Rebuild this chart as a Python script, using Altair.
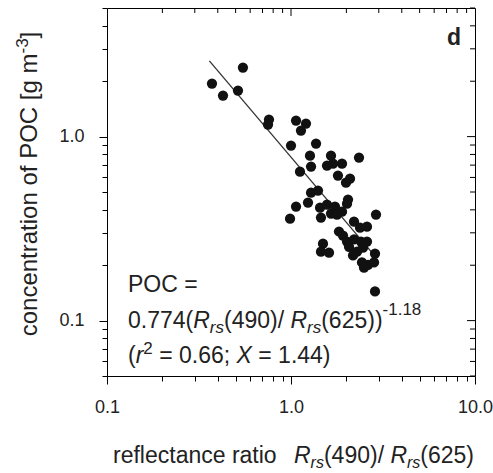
import altair as alt
import pandas as pd

# ---------------- data ----------------
ratio = [0.548, 0.372, 0.427, 0.515, 0.759, 0.750, 1.065, 1.206, 1.133, 1.000,
         1.368, 1.268, 1.650, 2.342, 1.285, 1.569, 1.692, 1.893, 1.119, 1.800,
         1.990, 2.093, 1.285, 1.402, 2.041, 1.237, 1.065, 0.988, 1.438, 1.569,
         1.734, 2.016, 1.893, 1.455, 1.650, 1.778, 2.200, 2.897, 2.371, 2.588,
         1.823, 1.917, 2.016, 2.200, 2.401, 2.588, 1.492, 1.455, 1.609, 2.067,
         2.284, 2.462, 2.173, 2.861, 2.431, 2.621, 2.826, 2.493, 2.861]
poc = [2.371, 1.941, 1.671, 1.778, 1.237, 1.162, 1.222, 1.177, 1.078, 0.894,
       0.916, 0.788, 0.788, 0.769, 0.687, 0.696, 0.713, 0.713, 0.645, 0.614,
       0.562, 0.591, 0.496, 0.509, 0.455, 0.438, 0.417, 0.358, 0.411, 0.427,
       0.417, 0.432, 0.391, 0.363, 0.382, 0.377, 0.345, 0.377, 0.320, 0.324,
       0.305, 0.290, 0.269, 0.276, 0.269, 0.269, 0.262, 0.237, 0.234, 0.252,
       0.237, 0.249, 0.226, 0.231, 0.207, 0.201, 0.207, 0.194, 0.144]

fit_x = [0.36, 2.8]
fit_y = [2.58, 0.23]

x_major = [0.1, 1, 10]
x_minor = [0.2, 0.3, 0.4, 0.5, 0.6, 0.7, 0.8, 0.9, 2, 3, 4, 5, 6, 7, 8, 9]
y_major = [0.1, 1]
y_minor = [0.05, 0.06, 0.07, 0.08, 0.09, 0.2, 0.3, 0.4, 0.5, 0.6, 0.7, 0.8, 0.9, 2, 3, 4, 5]

x_domain = [0.1, 10]
y_domain = [0.05, 5]

# ---------------- style ----------------
W = H = 368
FONT = "Liberation Sans"
TXT = "#222222"
MAJ, MIN = 8, 5

ARIAL = {' ': .278, '(': .333, ')': .333, '/': .278, '.': .278, ';': .278, '=': .584,
         '-': .333, '[': .278, ']': .278, 'R': .722, 'P': .667, 'O': .778, 'C': .722,
         'X': .667, 'a': .556, 'c': .5, 'e': .556, 'f': .278, 'g': .556, 'i': .222,
         'l': .222, 'm': .833, 'n': .556, 'o': .556, 'r': .333, 's': .5, 't': .278}


def tw(s, size):
    return sum(ARIAL.get(ch, .556) for ch in s) * size


one = pd.DataFrame({"a": [0]})


def txt(text, x, y, size, italic=False, bold=False, angle=0):
    return alt.Chart(one).mark_text(
        text=text, align="left", baseline="alphabetic", font=FONT, fontSize=size,
        fontStyle="italic" if italic else "normal",
        fontWeight="bold" if bold else "normal", angle=angle, color=TXT
    ).encode(x=alt.value(x), y=alt.value(y))


def run(pieces, x0, y0, angle=0):
    """pieces: (text, size, italic, shift) ; shift >0 raises"""
    layers = []
    pos = x0
    for text, size, italic, shift in pieces:
        lead = len(text) - len(text.lstrip(" "))
        core = text.strip(" ")
        start = pos + (tw(" " * lead, size) if angle == 0 else -tw(" " * lead, size))
        if angle == 0:
            layers.append(txt(core, start, y0 - shift, size, italic))
            pos += tw(text, size)
        else:  # rotated 270: text runs upward, "up" is to the left
            layers.append(txt(core, y0 - shift, start, size, italic, angle=270))
            pos -= tw(text, size)
    return layers


xs = alt.Scale(type="log", domain=x_domain, nice=False)
ys = alt.Scale(type="log", domain=y_domain, nice=False)

x_axis = alt.Axis(
    values=x_major + x_minor, orient="bottom", title=None, domain=False, grid=False,
    tickColor="black", tickWidth=1,
    tickSize={"condition": {"test": "datum.value == 0.1 || datum.value == 1 || datum.value == 10", "value": MAJ}, "value": MIN},
    labelExpr="datum.value == 0.1 ? '0.1' : (datum.value == 1 ? '1.0' : (datum.value == 10 ? '10.0' : ''))",
    labelFont=FONT, labelFontSize=18, labelColor=TXT, labelPadding=14,
    labelOverlap=False, labelFlush=False)
y_axis = alt.Axis(
    values=y_major + y_minor, orient="left", title=None, domain=False, grid=False,
    tickColor="black", tickWidth=1,
    tickSize={"condition": {"test": "datum.value == 0.1 || datum.value == 1", "value": MAJ}, "value": MIN},
    labelExpr="datum.value == 0.1 ? '0.1' : (datum.value == 1 ? '1.0' : '')",
    labelFont=FONT, labelFontSize=18, labelColor=TXT, labelPadding=15,
    labelOverlap=False, labelFlush=False)

pts = pd.DataFrame({"ratio": ratio, "poc": poc})
fit = pd.DataFrame({"ratio": fit_x, "poc": fit_y})

line = alt.Chart(fit).mark_line(color="#333333", strokeWidth=1.3).encode(
    x=alt.X("ratio:Q", scale=xs, axis=x_axis), y=alt.Y("poc:Q", scale=ys, axis=y_axis))
points = alt.Chart(pts).mark_circle(size=105, color="#111111", opacity=1).encode(
    x=alt.X("ratio:Q", scale=xs, axis=x_axis), y=alt.Y("poc:Q", scale=ys, axis=y_axis))


def top_ticks(vals, n):
    return alt.Chart(pd.DataFrame({"ratio": vals})).mark_rule(color="black", strokeWidth=1).encode(
        x=alt.X("ratio:Q", scale=xs, axis=x_axis), y=alt.value(0), y2=alt.value(n))


def right_ticks(vals, n):
    return alt.Chart(pd.DataFrame({"poc": vals})).mark_rule(color="black", strokeWidth=1).encode(
        y=alt.Y("poc:Q", scale=ys, axis=y_axis), x=alt.value(W - n), x2=alt.value(W))


layers = [top_ticks(x_major[1:2], MAJ), top_ticks(x_minor, MIN),
          right_ticks(y_major, MAJ), right_ticks(y_minor, MIN), line, points]

# panel letter
layers.append(txt("d", 340, 37, 23, bold=True))

# equation
S, s = 23, 17
layers.append(txt("POC =", 21, 284, S))
layers += run([("0.774(", S, False, 0), ("R", S, True, 0), ("rs", s, True, -5),
               ("(490)/ ", S, False, 0), ("R", S, True, 0), ("rs", s, True, -5),
               ("(625))", S, False, 0), ("-1.18", s, False, 13)], 21, 320)
layers += run([("(", S, False, 0), ("r", S, True, 0), ("2", s, False, 9),
               (" = 0.66; ", S, False, 0), ("X", S, True, 0), (" = 1.44)", S, False, 0)], 21, 355)

# x-axis title
T, t = 23, 16
layers.append(txt("reflectance ratio", 6, 455, T))
layers += run([("R", T, True, 0), ("rs", t, True, -5), ("(490)/ ", T, False, 0),
               ("R", T, True, 0), ("rs", t, True, -5), ("(625)", T, False, 0)], 187, 455)

# y-axis title (rotated)
TY, ty = 24, 17
yt = [("concentration of POC [g m", TY, False, 0), ("-3", ty, False, 9), ("]", TY, False, 0)]
L = sum(tw(p[0], p[1]) for p in yt)
layers += run(yt, 176 + L / 2, -70, angle=270)

chart = alt.layer(*layers).properties(
    width=W, height=H,
    autosize=alt.AutoSizeParams(type="none"),
    padding={"left": 107, "top": 8, "right": 18, "bottom": 97},
    background="white",
).configure_view(stroke="black", strokeWidth=1)

chart.save("out.html", embed_options={"renderer": "svg", "actions": False})
